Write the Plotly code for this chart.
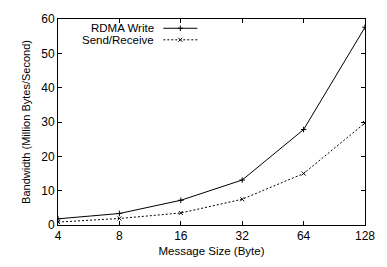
import plotly.graph_objects as go

sizes = [4, 8, 16, 32, 64, 128]
rdma_write = [1.8, 3.35, 7.2, 13.1, 27.8, 57.6]
send_receive = [0.85, 1.9, 3.5, 7.5, 15.0, 29.7]
y_ticks = [0, 10, 20, 30, 40, 50, 60]

FONT = "Liberation Sans, Arial, sans-serif"

fig = go.Figure()
fig.add_trace(go.Scatter(x=sizes, y=rdma_write, mode="lines+markers", name="RDMA Write",
                         line=dict(color="black", width=1),
                         marker=dict(symbol="cross-thin", size=4, line=dict(color="black", width=1)),
                         showlegend=False))
fig.add_trace(go.Scatter(x=sizes, y=send_receive, mode="lines+markers", name="Send/Receive",
                         line=dict(color="black", width=1, dash="2px,2px"),
                         marker=dict(symbol="x-thin", size=4, line=dict(color="black", width=1)),
                         showlegend=False))

# gnuplot-style legend: right-aligned text with sample line (and marker) on its right
legend_items = [("RDMA Write", "solid", "cross-thin", 0.955), ("Send/Receive", "2px,2px", "x-thin", 0.899)]
for label, dash, sym, yy in legend_items:
    fig.add_annotation(x=0.32, y=yy, xref="paper", yref="paper", text=label, showarrow=False,
                       xanchor="right", yanchor="middle", font=dict(family=FONT, size=11.5, color="black"))
    fig.add_trace(go.Scatter(x=[0.343, 0.454], y=[yy, yy], xaxis="x2", yaxis="y2", mode="lines",
                             line=dict(color="black", width=1, dash=dash), showlegend=False,
                             hoverinfo="skip"))
    fig.add_trace(go.Scatter(x=[0.3985], y=[yy], xaxis="x2", yaxis="y2", mode="markers",
                             marker=dict(symbol=sym, size=4, line=dict(color="black", width=1)),
                             showlegend=False, hoverinfo="skip"))

fig.update_layout(
    width=387, height=267,
    margin=dict(l=58, r=16, t=13, b=39),
    paper_bgcolor="white", plot_bgcolor="white",
    font=dict(family=FONT, size=12, color="black"),
    xaxis2=dict(overlaying="x", range=[0, 1], visible=False, fixedrange=True),
    yaxis2=dict(overlaying="y", range=[0, 1], visible=False, fixedrange=True),
)
fig.update_xaxes(selector=dict(anchor="y"))
fig.update_layout(xaxis=dict(type="log", range=[0.60206, 2.10721], tickvals=sizes,
                             ticktext=[str(s) for s in sizes],
                             ticks="inside", ticklen=4, tickcolor="black", mirror="ticks", showline=True,
                             linecolor="black", linewidth=1, showgrid=False, zeroline=False,
                             title=dict(text="Message Size (Byte)", font=dict(size=11.5), standoff=4),
                             tickfont=dict(size=12)),
                  yaxis=dict(range=[0, 60], tickvals=y_ticks, ticks="inside", ticklen=4, tickcolor="black",
                             mirror="ticks", showline=True, linecolor="black", linewidth=1, showgrid=False,
                             zeroline=False,
                             title=dict(text="Bandwidth (Million Bytes/Second)", font=dict(size=11), standoff=8),
                             tickfont=dict(size=12)))

fig.write_html("out.html", config={"displayModeBar": False},
               post_script="document.body.style.margin='0';document.body.style.overflow='hidden';")
